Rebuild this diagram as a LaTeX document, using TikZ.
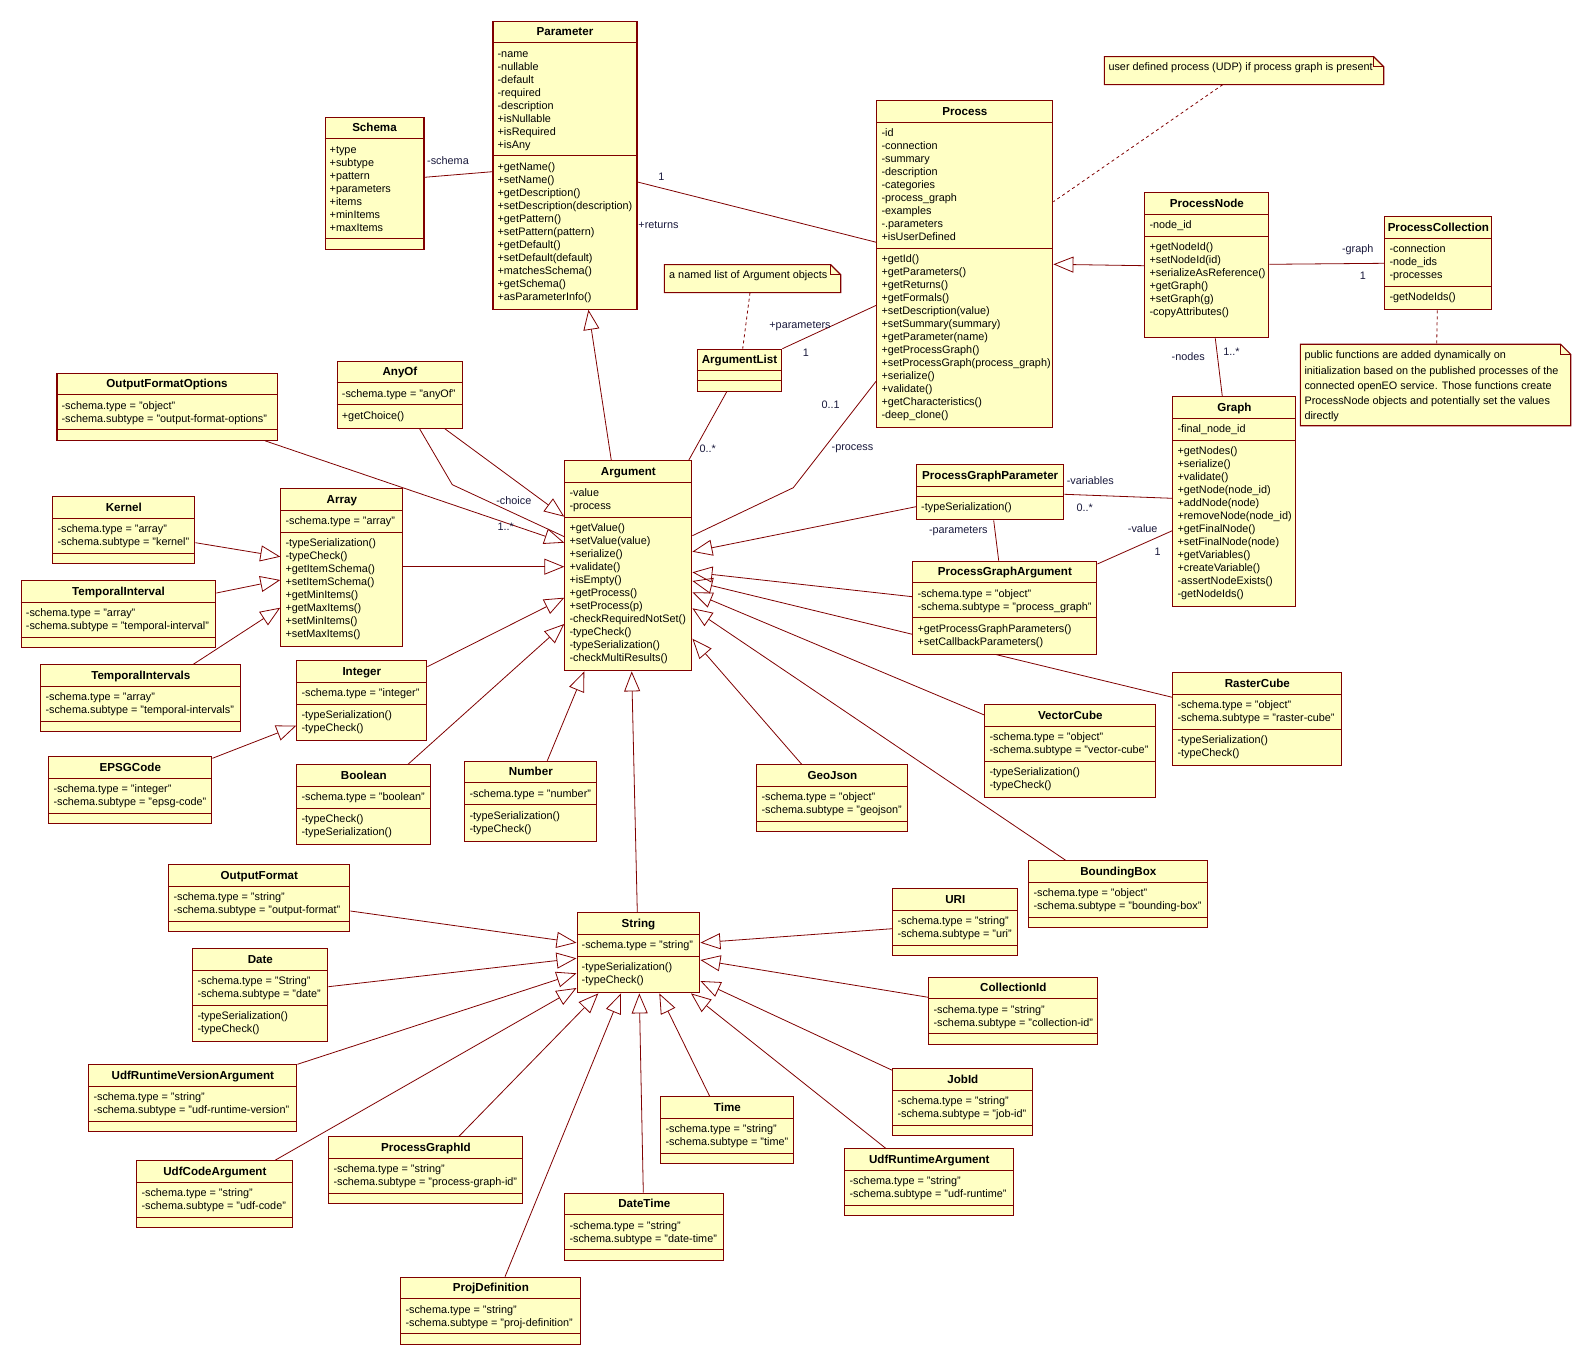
\documentclass[tikz,border=0pt]{standalone}
\usepackage{fontspec}
\setmainfont{Liberation Sans}
\usetikzlibrary{arrows.meta,calc}
\definecolor{umlborder}{RGB}{128,0,0}
\definecolor{umlfill}{RGB}{255,255,196}
\definecolor{labelcol}{RGB}{25,25,60}
\newcommand\umlmemberfont{\fontsize{10.85}{13}\selectfont}
\newcommand\umltitlefont{\fontsize{11.6}{13}\selectfont\bfseries}
\pgfdeclarelayer{background}
\pgfsetlayers{background,main}
\tikzset{
  classbox/.style={draw=umlborder, fill=umlfill, line width=1.1pt, inner sep=0pt, rectangle},
  divider/.style={draw=umlborder, line width=1.1pt},
  titletext/.style={font=\umltitlefont, anchor=base, inner sep=0pt},
  membertext/.style={font=\umlmemberfont, anchor=base west, inner sep=0pt},
  rolelabel/.style={font=\umlmemberfont, text=labelcol, inner sep=0pt},
  assoc/.style={draw=umlborder, line width=0.8pt},
  gen/.style={draw=umlborder, line width=0.8pt, line join=miter, -{Triangle[open, length=20pt, width=16pt]}},
  notelink/.style={draw=umlborder, line width=0.8pt, dash pattern=on 3pt off 3pt},
  noteborder/.style={draw=umlborder, line width=1.1pt, fill=umlfill},
  noteanchor/.style={inner sep=0pt, rectangle}
}
% #1 name, #2 x1, #3 y1, #4 x2, #5 title, #6 n attrs, #7 attrs, #8 n methods, #9 methods
\newcommand\umlclass[9]{%
  \pgfmathsetmacro\umlhA{ifthenelse(#6==0,10,13*#6+9)}%
  \pgfmathsetmacro\umlhM{ifthenelse(#8==0,10,13*#8+10)}%
  \pgfmathsetmacro\umlhT{22+\umlhA+\umlhM}%
  \pgfmathsetmacro\umlW{#4-#2}%
  \node[classbox, minimum width=\umlW pt, minimum height=\umlhT pt, anchor=north west] (#1) at (#2,#3) {};
  \path (#1.north) ++(0,15) node[titletext] {#5};
  \draw[divider] (#1.north west) ++(0,22) -- ++(\umlW,0);
  \draw[divider] (#1.north west) ++(0,22+\umlhA) -- ++(\umlW,0);
  \foreach \umlt [count=\umli from 0] in {#7} {\path (#1.north west) ++(5,{36.5+13*\umli}) node[membertext] {\umlt};}
  \foreach \umlt [count=\umli from 0] in {#9} {\path (#1.north west) ++(5,{22+\umlhA+14.5+13*\umli}) node[membertext] {\umlt};}
}
% #1 name, #2 x1, #3 y1, #4 x2, #5 y2
\newcommand\umlnote[5]{%
  \pgfmathsetmacro\umlnw{#4-#2}%
  \pgfmathsetmacro\umlnh{#5-#3}%
  \node[noteanchor, minimum width=\umlnw pt, minimum height=\umlnh pt, anchor=north west] (#1) at (#2,#3) {};
  \draw[noteborder] (#1.north west) -- ($(#1.north east)+(-10,0)$) -- ($(#1.north east)+(0,10)$) -- (#1.south east) -- (#1.south west) -- cycle;
  \draw[noteborder, fill=none] ($(#1.north east)+(-10,0)$) -- ++(0,10) -- ++(10,0);
}
\begin{document}
\begin{tikzpicture}[x=1pt,y=-1pt]
\useasboundingbox (0,0) rectangle (1591,1364);
\begin{pgfonlayer}{background}
\fill[white] (0,0) rectangle (1591,1364);
\end{pgfonlayer}

% ---------- classes ----------
\umlclass{Schema}{324.5}{116.7}{423.4}{Schema}{7}{+type,+subtype,+pattern,+parameters,+items,+minItems,+maxItems}{0}{}
\umlclass{Parameter}{492.4}{20.7}{636.4}{Parameter}{8}{-name,-nullable,-default,-required,-description,+isNullable,+isRequired,+isAny}{11}{+getName(),+setName(),+getDescription(),+setDescription(description),+getPattern(),+setPattern(pattern),+getDefault(),+setDefault(default),+matchesSchema(),+getSchema(),+asParameterInfo()}
\umlclass{Process}{876.3}{100.3}{1052.3}{Process}{9}{-id,-connection,-summary,-description,-categories,-process\_graph,-examples,-.parameters,+isUserDefined}{13}{+getId(),+getParameters(),+getReturns(),+getFormals(),+setDescription(value),+setSummary(summary),+getParameter(name),+getProcessGraph(),+setProcessGraph(process\_graph),+serialize(),+validate(),+getCharacteristics(),-deep\_clone()}
\umlclass{ArgumentList}{696.7}{348.7}{781.3}{ArgumentList}{0}{}{0}{}
\umlclass{ProcessNode}{1144.3}{192.3}{1268.3}{ProcessNode}{1}{-node\_id}{7}{+getNodeId(),+setNodeId(id),+serializeAsReference(),+getGraph(),+setGraph(g),-copyAttributes()}
\umlclass{ProcessCollection}{1384.3}{216.3}{1491.3}{ProcessCollection}{3}{-connection,-node\_ids,-processes}{1}{-getNodeIds()}
\umlclass{Graph}{1172.3}{396.3}{1295.3}{Graph}{1}{-final\_node\_id}{12}{+getNodes(),+serialize(),+validate(),+getNode(node\_id),+addNode(node),+removeNode(node\_id),+getFinalNode(),+setFinalNode(node),+getVariables(),+createVariable(),-assertNodeExists(),-getNodeIds()}
\umlclass{OutputFormatOptions}{56.4}{372.7}{276.5}{OutputFormatOptions}{2}{-schema.type = "object",-schema.subtype = "output-format-options"}{0}{}
\umlclass{AnyOf}{336.7}{360.7}{462.1}{AnyOf}{1}{-schema.type = "anyOf"}{1}{+getChoice()}
\umlclass{Argument}{564.3}{460.3}{691.3}{Argument}{2}{-value,-process}{11}{+getValue(),+setValue(value),+serialize(),+validate(),+isEmpty(),+getProcess(),+setProcess(p),-checkRequiredNotSet(),-typeCheck(),-typeSerialization(),-checkMultiResults()}
\umlclass{Kernel}{52.3}{496.3}{194.3}{Kernel}{2}{-schema.type = "array",-schema.subtype = "kernel"}{0}{}
\umlclass{Array}{280.3}{488.3}{402.3}{Array}{1}{-schema.type = "array"}{8}{-typeSerialization(),-typeCheck(),+getItemSchema(),+setItemSchema(),+getMinItems(),+getMaxItems(),+setMinItems(),+setMaxItems()}
\umlclass{TemporalInterval}{20.7}{580.3}{215.3}{TemporalInterval}{2}{-schema.type = "array",-schema.subtype = "temporal-interval"}{0}{}
\umlclass{TemporalIntervals}{40.3}{664.3}{240.3}{TemporalIntervals}{2}{-schema.type = "array",-schema.subtype = "temporal-intervals"}{0}{}
\umlclass{Integer}{296.3}{660.3}{426.3}{Integer}{1}{-schema.type = "integer"}{2}{-typeSerialization(),-typeCheck()}
\umlclass{EPSGCode}{48.3}{756.3}{211.3}{EPSGCode}{2}{-schema.type = "integer",-schema.subtype = "epsg-code"}{0}{}
\umlclass{Boolean}{296.3}{764.3}{430.3}{Boolean}{1}{-schema.type = "boolean"}{2}{-typeCheck(),-typeSerialization()}
\umlclass{Number}{464.3}{760.7}{596.3}{Number}{1}{-schema.type = "number"}{2}{-typeSerialization(),-typeCheck()}
\umlclass{GeoJson}{756.3}{764.3}{907.3}{GeoJson}{2}{-schema.type = "object",-schema.subtype = "geojson"}{0}{}
\umlclass{PGP}{916}{464.3}{1063.3}{ProcessGraphParameter}{0}{}{1}{-typeSerialization()}
\umlclass{PGA}{912.3}{560.7}{1096.3}{ProcessGraphArgument}{2}{-schema.type = "object",-schema.subtype = "process\_graph"}{2}{+getProcessGraphParameters(),+setCallbackParameters()}
\umlclass{RasterCube}{1172.3}{672.3}{1341.3}{RasterCube}{2}{-schema.type = "object",-schema.subtype = "raster-cube"}{2}{-typeSerialization(),-typeCheck()}
\umlclass{VectorCube}{984.3}{704.3}{1155.3}{VectorCube}{2}{-schema.type = "object",-schema.subtype = "vector-cube"}{2}{-typeSerialization(),-typeCheck()}
\umlclass{BoundingBox}{1028.3}{860.3}{1207.3}{BoundingBox}{2}{-schema.type = "object",-schema.subtype = "bounding-box"}{0}{}
\umlclass{OutputFormat}{168.3}{864.3}{349.3}{OutputFormat}{2}{-schema.type = "string",-schema.subtype = "output-format"}{0}{}
\umlclass{String}{576.5}{912.3}{699.3}{String}{1}{-schema.type = "string"}{2}{-typeSerialization(),-typeCheck()}
\umlclass{URI}{892.3}{888.3}{1017.3}{URI}{2}{-schema.type = "string",-schema.subtype = "uri"}{0}{}
\umlclass{Date}{192.3}{948.3}{327.3}{Date}{2}{-schema.type = "String",-schema.subtype = "date"}{2}{-typeSerialization(),-typeCheck()}
\umlclass{CollectionId}{928.3}{976.5}{1097.3}{CollectionId}{2}{-schema.type = "string",-schema.subtype = "collection-id"}{0}{}
\umlclass{UdfRVA}{88.3}{1064.3}{296.3}{UdfRuntimeVersionArgument}{2}{-schema.type = "string",-schema.subtype = "udf-runtime-version"}{0}{}
\umlclass{JobId}{892.3}{1068.3}{1032.3}{JobId}{2}{-schema.type = "string",-schema.subtype = "job-id"}{0}{}
\umlclass{Time}{660.3}{1096.3}{793.3}{Time}{2}{-schema.type = "string",-schema.subtype = "time"}{0}{}
\umlclass{PGId}{328.3}{1136.3}{522.3}{ProcessGraphId}{2}{-schema.type = "string",-schema.subtype = "process-graph-id"}{0}{}
\umlclass{UdfRA}{844.3}{1148.3}{1013.3}{UdfRuntimeArgument}{2}{-schema.type = "string",-schema.subtype = "udf-runtime"}{0}{}
\umlclass{UdfCode}{136.3}{1160.3}{292.3}{UdfCodeArgument}{2}{-schema.type = "string",-schema.subtype = "udf-code"}{0}{}
\umlclass{DateTime}{564.3}{1192.7}{723.3}{DateTime}{2}{-schema.type = "string",-schema.subtype = "date-time"}{0}{}
\umlclass{ProjDef}{400.3}{1276.7}{580.3}{ProjDefinition}{2}{-schema.type = "string",-schema.subtype = "proj-definition"}{0}{}

% ---------- notes ----------
\umlnote{udpnote}{1104.3}{56.7}{1383.3}{84.3}
\node[membertext] at (1108.3,71) {user defined process (UDP) if process graph is present};
\umlnote{argnote}{664.3}{264.7}{840.3}{292.3}
\node[membertext] at (669,279) {a named list of Argument objects};
\umlnote{pubnote}{1300.3}{344.3}{1570.3}{425.3}
\node[membertext] at (1304.3,359) {public functions are added dynamically on};
\node[membertext] at (1304.3,374) {initialization based on the published processes of the};
\node[membertext] at (1304.3,389) {connected openEO service. Those functions create};
\node[membertext] at (1304.3,404) {ProcessNode objects and potentially set the values};
\node[membertext] at (1304.3,419) {directly};

% ---------- labels ----------
\node[rolelabel] at (448,161) {-schema};
\node[rolelabel] at (661.3,177) {1};
\node[rolelabel] at (658.5,225.3) {+returns};
\node[rolelabel] at (800,326) {+parameters};
\node[rolelabel] at (806,352.3) {1};
\node[rolelabel] at (707.7,448.7) {0..*};
\node[rolelabel] at (830.7,405) {0..1};
\node[rolelabel] at (852.5,448.3) {-process};
\node[rolelabel] at (1357.7,250) {-graph};
\node[rolelabel] at (1363,276) {1};
\node[rolelabel] at (1188.3,357) {-nodes};
\node[rolelabel] at (1231.5,351.7) {1..*};
\node[rolelabel] at (1090.3,481) {-variables};
\node[rolelabel] at (1084.7,507.3) {0..*};
\node[rolelabel] at (958.3,531.3) {-parameters};
\node[rolelabel] at (1142.7,529) {-value};
\node[rolelabel] at (1157.7,551.3) {1};
\node[rolelabel] at (513.8,500.3) {-choice};
\node[rolelabel] at (505.8,526.7) {1..*};

% ---------- connectors ----------
\coordinate (procbend) at (793.3,487.7);
\coordinate (choicebend) at (452.3,484.7);
\begin{pgfonlayer}{background}
% associations
\draw[assoc] (Schema.east |- 0,177.3) -- (Parameter.west |- 0,171.7);
\draw[assoc] (Parameter.east |- 0,182) -- (Process.west |- 0,242.3);
\draw[assoc] (ArgumentList.north east) -- (Process.west |- 0,305.3);
\draw[assoc] (ArgumentList.south -| 726.7,0) -- (Argument.north -| 688.7,0);
\draw[assoc] (Process.west |- 0,381) -- (procbend) -- (Argument.east |- 0,535.7);
\draw[assoc] (ProcessNode.east |- 0,264.3) -- (ProcessCollection.west |- 0,263.3);
\draw[assoc] (ProcessNode.south -| 1215.3,0) -- (Graph.north -| 1222.3,0);
\draw[assoc] (PGP.east |- 0,494.3) -- (Graph.west |- 0,498.3);
\draw[assoc] (PGP.south -| 993.7,0) -- (PGA.north -| 998.7,0);
\draw[assoc] (PGA.east |- 0,564) -- (Graph.west |- 0,530.7);
\draw[assoc] (AnyOf.south -| 419.6,0) -- (choicebend) -- (Argument.west |- 0,536.7);
% generalizations
\draw[gen] (Argument.north -| 611.3,0) -- (Parameter.south -| 588.4,0);
\draw[gen] (ProcessNode.west |- 0,265.7) -- (Process.east |- 0,264.3);
\draw[gen] (AnyOf.south -| 444.9,0) -- (Argument.west |- 0,516.7);
\draw[gen] (OutputFormatOptions.south -| 265,0) -- (Argument.west |- 0,542.7);
\draw[gen] (Array.east |- 0,566.7) -- (Argument.west |- 0,566.7);
\draw[gen] (Integer.east |- 0,666.7) -- (Argument.west |- 0,597.7);
\draw[gen] (Boolean.north -| 408,0) -- (Argument.west |- 0,624);
\draw[gen] (Number.north -| 547.3,0) -- (Argument.south -| 584.3,0);
\draw[gen] (String.north -| 637.3,0) -- (Argument.south -| 631.7,0);
\draw[gen] (PGP.west |- 0,506.7) -- (Argument.east |- 0,551.7);
\draw[gen] (PGA.west |- 0,596.7) -- (Argument.east |- 0,572.3);
\draw[gen] (RasterCube.west |- 0,697.3) -- (Argument.east |- 0,581);
\draw[gen] (VectorCube.west |- 0,715) -- (Argument.east |- 0,592.3);
\draw[gen] (BoundingBox.north -| 1065.7,0) -- (Argument.east |- 0,608.3);
\draw[gen] (GeoJson.north -| 801.7,0) -- (Argument.east |- 0,638.7);
\draw[gen] (Kernel.east |- 0,542.7) -- (Array.west |- 0,556.7);
\draw[gen] (TemporalInterval.east |- 0,593) -- (Array.west |- 0,580);
\draw[gen] (TemporalIntervals.north -| 193.3,0) -- (Array.west |- 0,607.7);
\draw[gen] (EPSGCode.east |- 0,758.3) -- (Integer.west |- 0,725.7);
\draw[gen] (OutputFormat.east |- 0,911) -- (String.west |- 0,942.7);
\draw[gen] (Date.east |- 0,986.7) -- (String.west |- 0,958.3);
\draw[gen] (UdfRVA.north east) -- (String.west |- 0,973.3);
\draw[gen] (UdfCode.north -| 275,0) -- (String.west |- 0,988);
\draw[gen] (PGId.north -| 459,0) -- (String.south -| 598.3,0);
\draw[gen] (ProjDef.north -| 505,0) -- (String.south -| 621,0);
\draw[gen] (DateTime.north -| 643.3,0) -- (String.south -| 639.3,0);
\draw[gen] (Time.north -| 709.7,0) -- (String.south -| 659.3,0);
\draw[gen] (UdfRA.north -| 885.7,0) -- (String.south -| 691,0);
\draw[gen] (JobId.west |- 0,1070.3) -- (String.east |- 0,981);
\draw[gen] (CollectionId.west |- 0,997.3) -- (String.east |- 0,960);
\draw[gen] (URI.west |- 0,928.7) -- (String.east |- 0,942.7);
% note links
\draw[notelink] (udpnote.south -| 1222.7,0) -- (Process.east |- 0,201.7);
\draw[notelink] (argnote.south -| 750,0) -- (ArgumentList.north -| 742.7,0);
\draw[notelink] (ProcessCollection.south -| 1437.3,0) -- (pubnote.north -| 1436.7,0);
\end{pgfonlayer}
\end{tikzpicture}
\end{document}
